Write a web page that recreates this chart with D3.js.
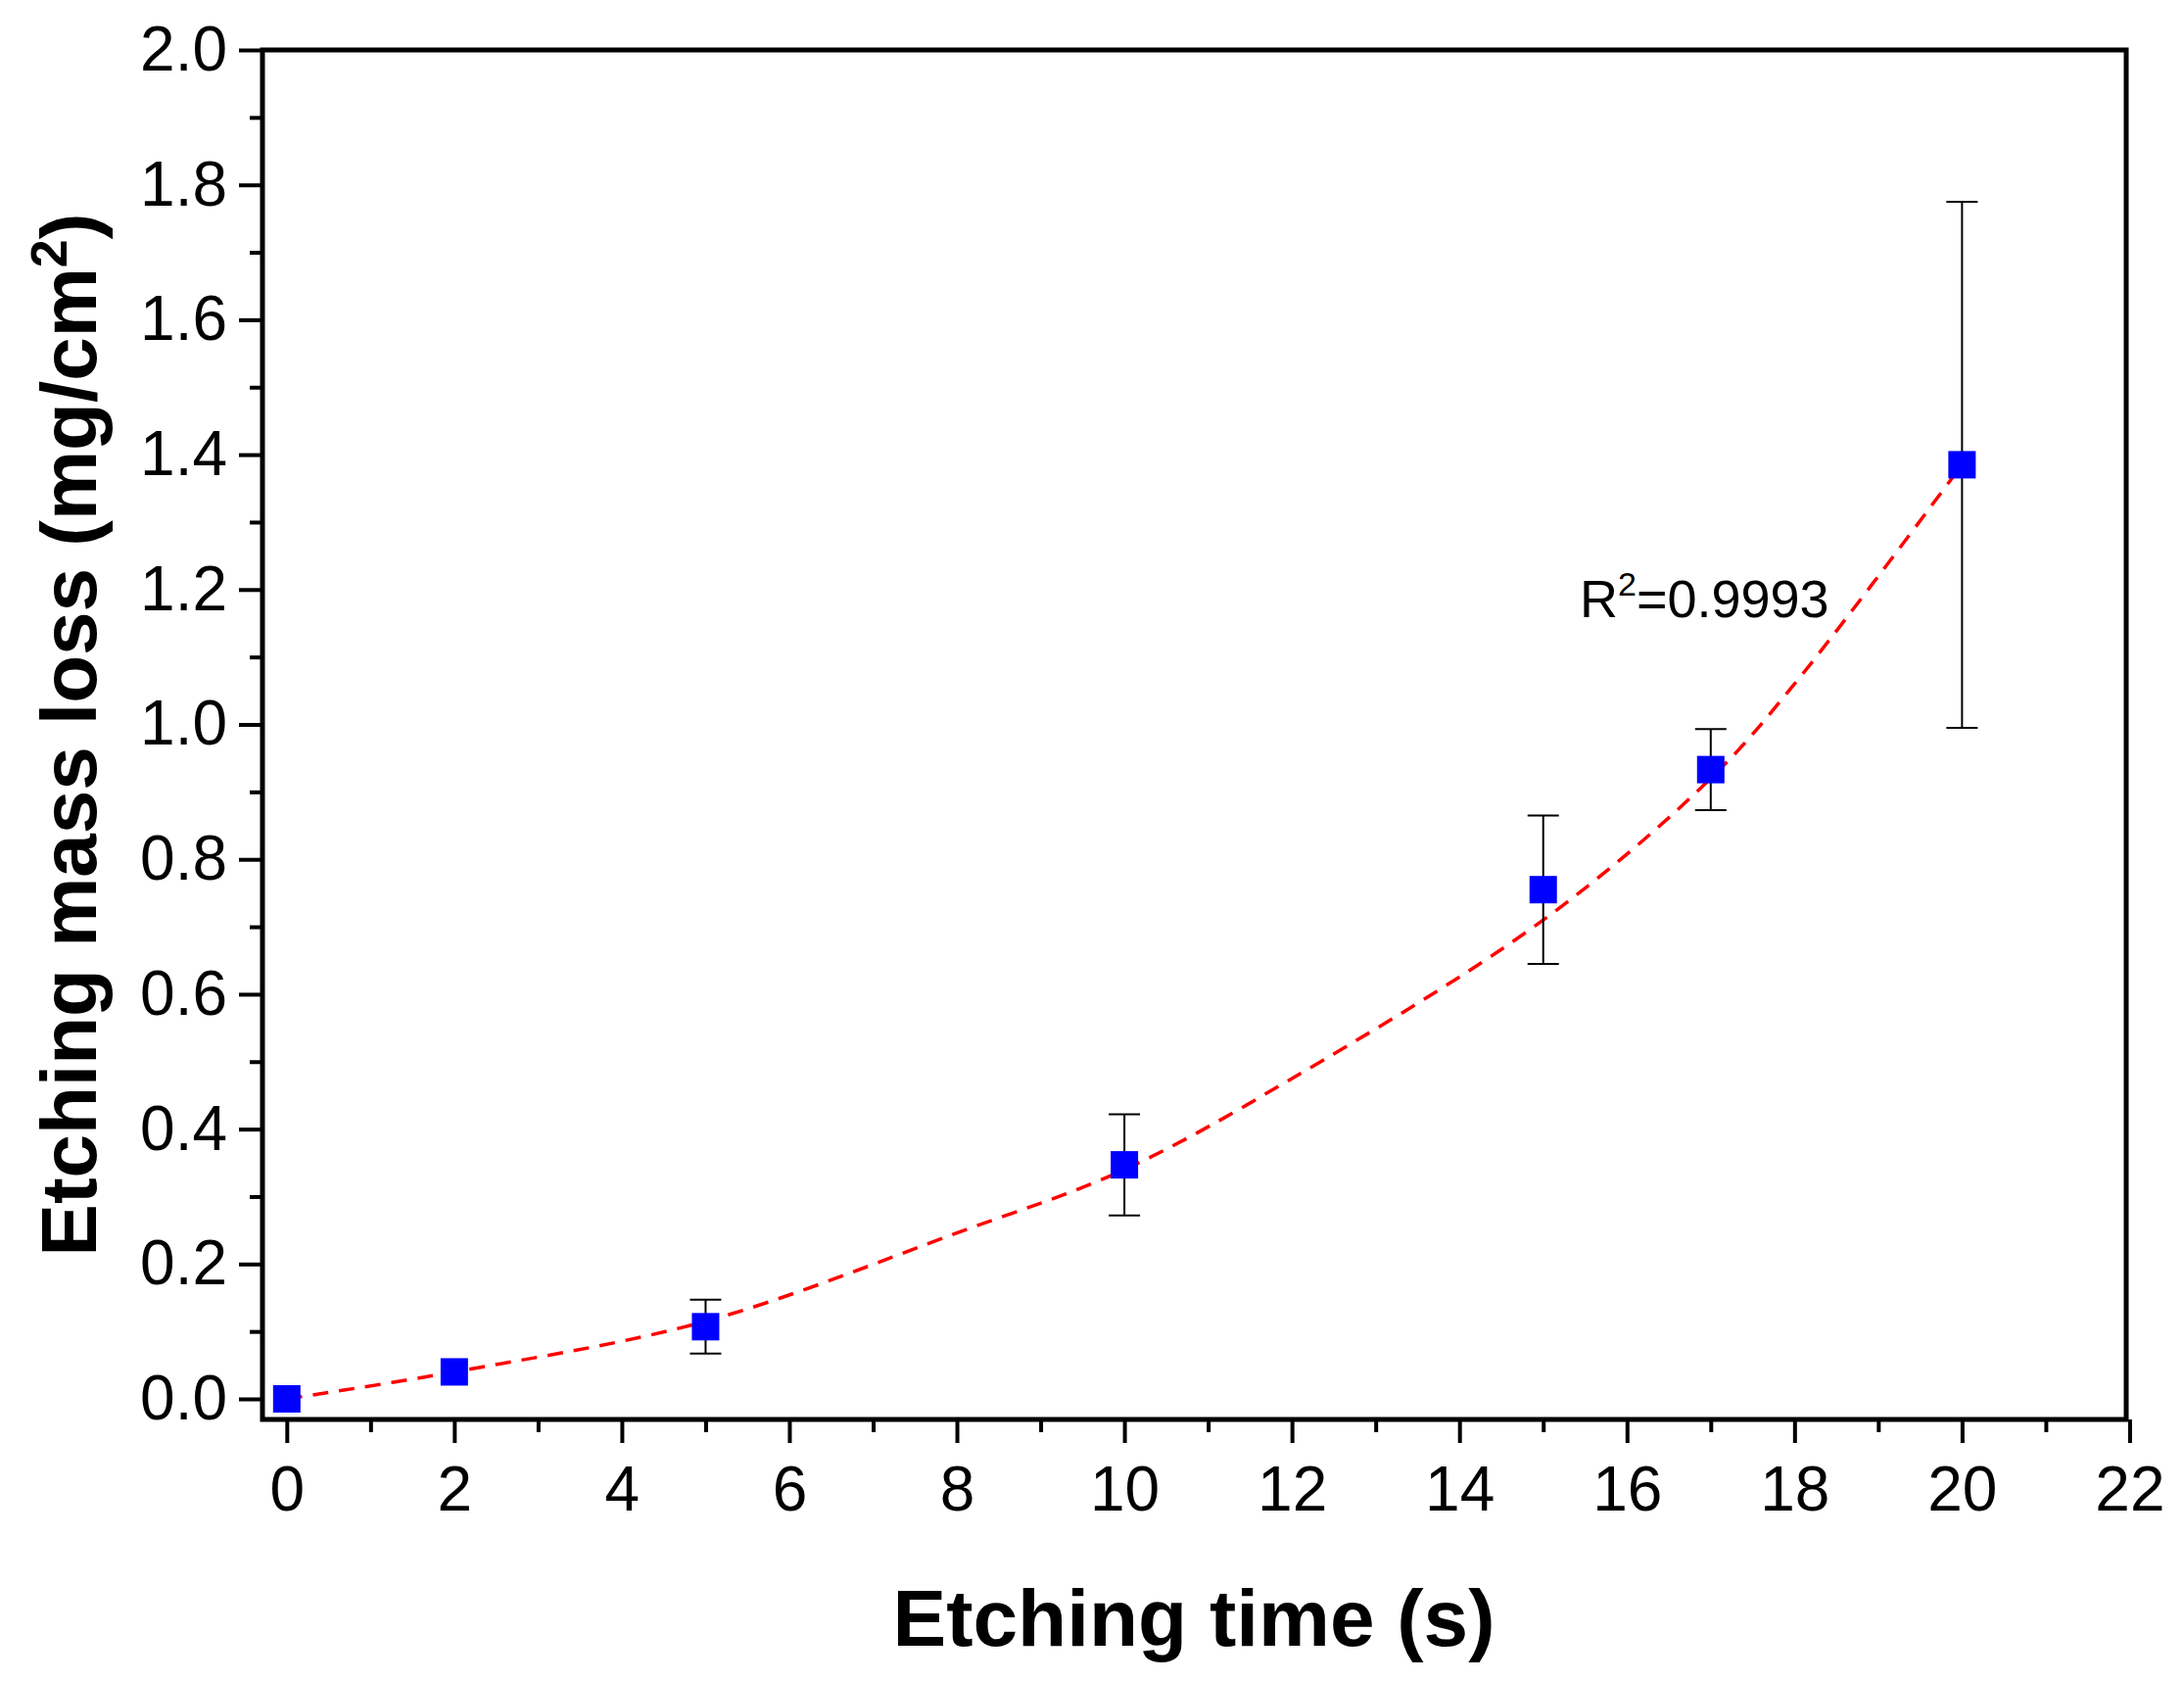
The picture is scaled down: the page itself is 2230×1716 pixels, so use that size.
<!DOCTYPE html>
<html><head><meta charset="utf-8">
<script src="https://cdn.jsdelivr.net/npm/d3@7"></script>
<style>body{margin:0;background:#fff}text{font-family:Arial,"Liberation Sans",sans-serif}</style>
</head><body><svg width="2230" height="1716"></svg>
<script>
// measured points
const times = [0, 2, 5, 10, 15, 17, 20];
const massLoss = [0.0, 0.04, 0.107, 0.347, 0.755, 0.933, 1.385];
const errors = [0, 0, 0.04, 0.075, 0.11, 0.06, 0.39];
// fitted curve
const fitX = [0, 2, 5, 8, 10, 12, 15, 17, 18, 20];
const fitY = [0.0, 0.04, 0.115, 0.246, 0.34, 0.475, 0.71, 0.92, 1.06, 1.385];
const xTicks = [0, 2, 4, 6, 8, 10, 12, 14, 16, 18, 20, 22];
const yTicks = [0, 0.2, 0.4, 0.6, 0.8, 1.0, 1.2, 1.4, 1.6, 1.8, 2.0];

const svg = d3.select("svg");
const x = d3.scaleLinear().domain([-0.29, 21.96]).range([268, 2171]);
const y = d3.scaleLinear().domain([0, 2]).range([1428, 51]);
const bottom = 1449, left = 268;

// frame
svg.append("rect").attr("x", left).attr("y", 51).attr("width", 2171 - left).attr("height", bottom - 51)
    .attr("fill", "none").attr("stroke", "#000").attr("stroke-width", 5);

// x axis
const xAx = svg.append("g").attr("transform", `translate(0,${bottom})`)
    .call(d3.axisBottom(x).tickValues(xTicks).tickSize(24).tickPadding(24).tickFormat(d3.format("d")));
xAx.select(".domain").remove();
xAx.selectAll("line").attr("stroke-width", 4);
xAx.selectAll("text").attr("font-size", 64).attr("font-family", "Arial, Liberation Sans");
const xMinor = svg.append("g").attr("transform", `translate(0,${bottom})`)
    .call(d3.axisBottom(x).tickValues(d3.range(1, 22, 2)).tickSize(13).tickFormat(""));
xMinor.select(".domain").remove();
xMinor.selectAll("line").attr("stroke-width", 4);

// y axis
const yAx = svg.append("g").attr("transform", `translate(${left},0)`)
    .call(d3.axisLeft(y).tickValues(yTicks).tickSize(24).tickPadding(12).tickFormat(d3.format(".1f")));
yAx.select(".domain").remove();
yAx.selectAll("line").attr("stroke-width", 4);
yAx.selectAll("text").attr("font-size", 64).attr("font-family", "Arial, Liberation Sans");
const yMinor = svg.append("g").attr("transform", `translate(${left},0)`)
    .call(d3.axisLeft(y).tickValues(d3.range(0.1, 2, 0.2)).tickSize(13).tickFormat(""));
yMinor.select(".domain").remove();
yMinor.selectAll("line").attr("stroke-width", 4);

// titles
svg.append("text").attr("x", 1219).attr("y", 1680).attr("text-anchor", "middle")
    .attr("font-size", 82).attr("font-weight", "bold").text("Etching time (s)");
const yt = svg.append("text").attr("transform", `translate(98,${(51 + 1449) / 2}) rotate(-90)`)
    .attr("text-anchor", "middle").attr("font-size", 80).attr("font-weight", "bold");
yt.append("tspan").text("Etching mass loss (mg/cm");
yt.append("tspan").attr("font-size", 52).attr("dy", -30).text("2");
yt.append("tspan").attr("dy", 30).text(")");

// fit line
const pts = fitX.map((v, i) => [v, fitY[i]]);
svg.append("path").attr("d", d3.line().x(d => x(d[0])).y(d => y(d[1])).curve(d3.curveCatmullRom)(pts))
    .attr("fill", "none").attr("stroke", "#f00").attr("stroke-width", 3.5).attr("stroke-dasharray", "16,11");

// error bars
times.forEach((t, i) => {
    if (!errors[i]) return;
    const g = svg.append("g").attr("stroke", "#000").attr("stroke-width", 2);
    g.append("line").attr("x1", x(t)).attr("x2", x(t)).attr("y1", y(massLoss[i] + errors[i])).attr("y2", y(massLoss[i] - errors[i]));
    [1, -1].forEach(s => g.append("line").attr("x1", x(t) - 16).attr("x2", x(t) + 16)
        .attr("y1", y(massLoss[i] + s * errors[i])).attr("y2", y(massLoss[i] + s * errors[i])));
});

// markers
svg.selectAll(".pt").data(times).enter().append("rect")
    .attr("x", d => x(d) - 14).attr("y", (d, i) => y(massLoss[i]) - 14)
    .attr("width", 28).attr("height", 28).attr("fill", "#0000ff");

// R2 label
const r = svg.append("text").attr("x", 1613).attr("y", 630).attr("font-size", 54);
r.append("tspan").text("R");
r.append("tspan").attr("font-size", 34).attr("dy", -22).text("2");
r.append("tspan").attr("dy", 22).text("=0.9993");
</script></body></html>
